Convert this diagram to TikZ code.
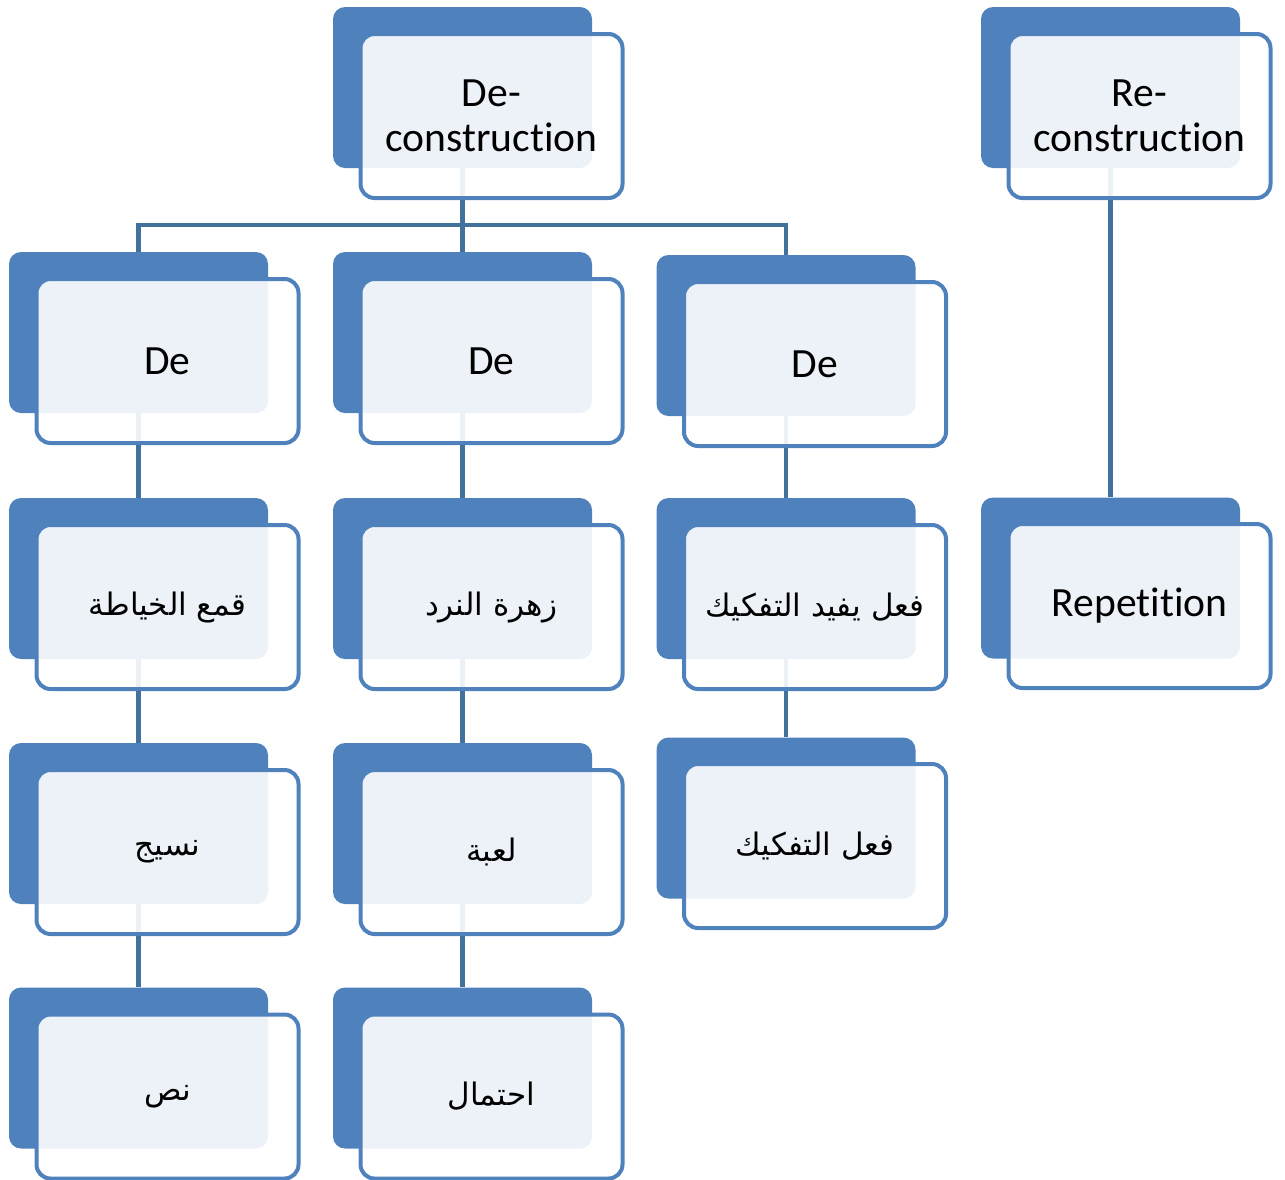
\documentclass[tikz,border=0pt]{standalone}
\usepackage{fontspec}
\setmainfont[Ligatures={NoCommon,NoContextual}, RawFeature={-calt;-clig;-liga}]{Carlito}
\newfontfamily\arabicfont[Script=Arabic]{DejaVu Sans}
\TeXXeTstate=1
\definecolor{cardblue}{HTML}{4F81BD}
\definecolor{linkblue}{HTML}{41719C}
\tikzset{
  cardback/.style={fill=cardblue, rounded corners=6pt, minimum width=129.5pt, minimum height=80.5pt, inner sep=0pt},
  cardfront/.style={draw=cardblue, line width=2pt, fill=white, fill opacity=0.9, text opacity=1,
    rounded corners=7pt, minimum width=131pt, minimum height=82pt, inner sep=0pt, align=center,
    font=\fontsize{20.8}{22.5}\selectfont},
  artext/.style={font=\arabicfont\fontsize{15.5}{19}\selectfont},
  link/.style={draw=linkblue, line width=2.2pt}
}
\begin{document}
\begin{tikzpicture}[x=0.5pt, y=-0.5pt]
  \useasboundingbox (0,0) rectangle (1285,1179);
  % back cards
  \node[cardback] (dec-b) at (462.5,87.5) {};
  \node[cardback] (rec-b) at (1110.5,87.5) {};
  \node[cardback] (de1-b) at (138.5,332.5) {};
  \node[cardback] (de2-b) at (462.5,332.5) {};
  \node[cardback] (de3-b) at (786,335.5) {};
  \node[cardback] (qm-b) at (138.5,578.5) {};
  \node[cardback] (zn-b) at (462.5,578.5) {};
  \node[cardback] (fy-b) at (786,578.5) {};
  \node[cardback] (rep-b) at (1110.5,578) {};
  \node[cardback] (ns-b) at (138.5,823.5) {};
  \node[cardback] (lb-b) at (462.5,823.5) {};
  \node[cardback] (ft-b) at (786,818) {};
  \node[cardback] (nas-b) at (138.5,1068) {};
  \node[cardback] (ih-b) at (462.5,1068) {};
  % links
  \coordinate (bus) at (462.5,225);
  \draw[link] (dec-b.south) -- (bus);
  \draw[link] (de1-b.north) |- (bus) -| (de3-b.north);
  \draw[link] (bus) -- (de2-b.north);
  \draw[link] (de1-b.south) -- (qm-b.north);
  \draw[link] (qm-b.south) -- (ns-b.north);
  \draw[link] (ns-b.south) -- (nas-b.north);
  \draw[link] (de2-b.south) -- (zn-b.north);
  \draw[link] (zn-b.south) -- (lb-b.north);
  \draw[link] (lb-b.south) -- (ih-b.north);
  \draw[link] (de3-b.south) -- (fy-b.north);
  \draw[link] (fy-b.south) -- (ft-b.north);
  \draw[link] (rec-b.south) -- (rep-b.north);
  % front cards
  \node[cardfront] (dec) at (491.5,116) {De-\\construction};
  \node[cardfront] (rec) at (1139.5,116) {Re-\\construction};
  \node[cardfront] (de1) at (167.5,361) {De};
  \node[cardfront] (de2) at (491.5,361) {De};
  \node[cardfront] (de3) at (815,364) {De};
  \node[cardfront, artext] (qm) at (167.5,607) {\beginR قمع الخياطة\endR};
  \node[cardfront, artext] (zn) at (491.5,607) {\beginR زهرة النرد\endR};
  \node[cardfront, artext] (fy) at (815,607) {\beginR فعل يفيد التفكيك\endR};
  \node[cardfront] (rep) at (1139.5,606) {Repetition};
  \node[cardfront, artext] (ns) at (167.5,852) {\beginR نسيج\endR};
  \node[cardfront, artext] (lb) at (491.5,852) {\beginR لعبة\endR};
  \node[cardfront, artext] (ft) at (815,846) {\beginR فعل التفكيك\endR};
  \node[cardfront, artext] (nas) at (167.5,1096.5) {\beginR نص\endR};
  \node[cardfront, artext] (ih) at (491.5,1096.5) {\beginR احتمال\endR};
\end{tikzpicture}
\end{document}
